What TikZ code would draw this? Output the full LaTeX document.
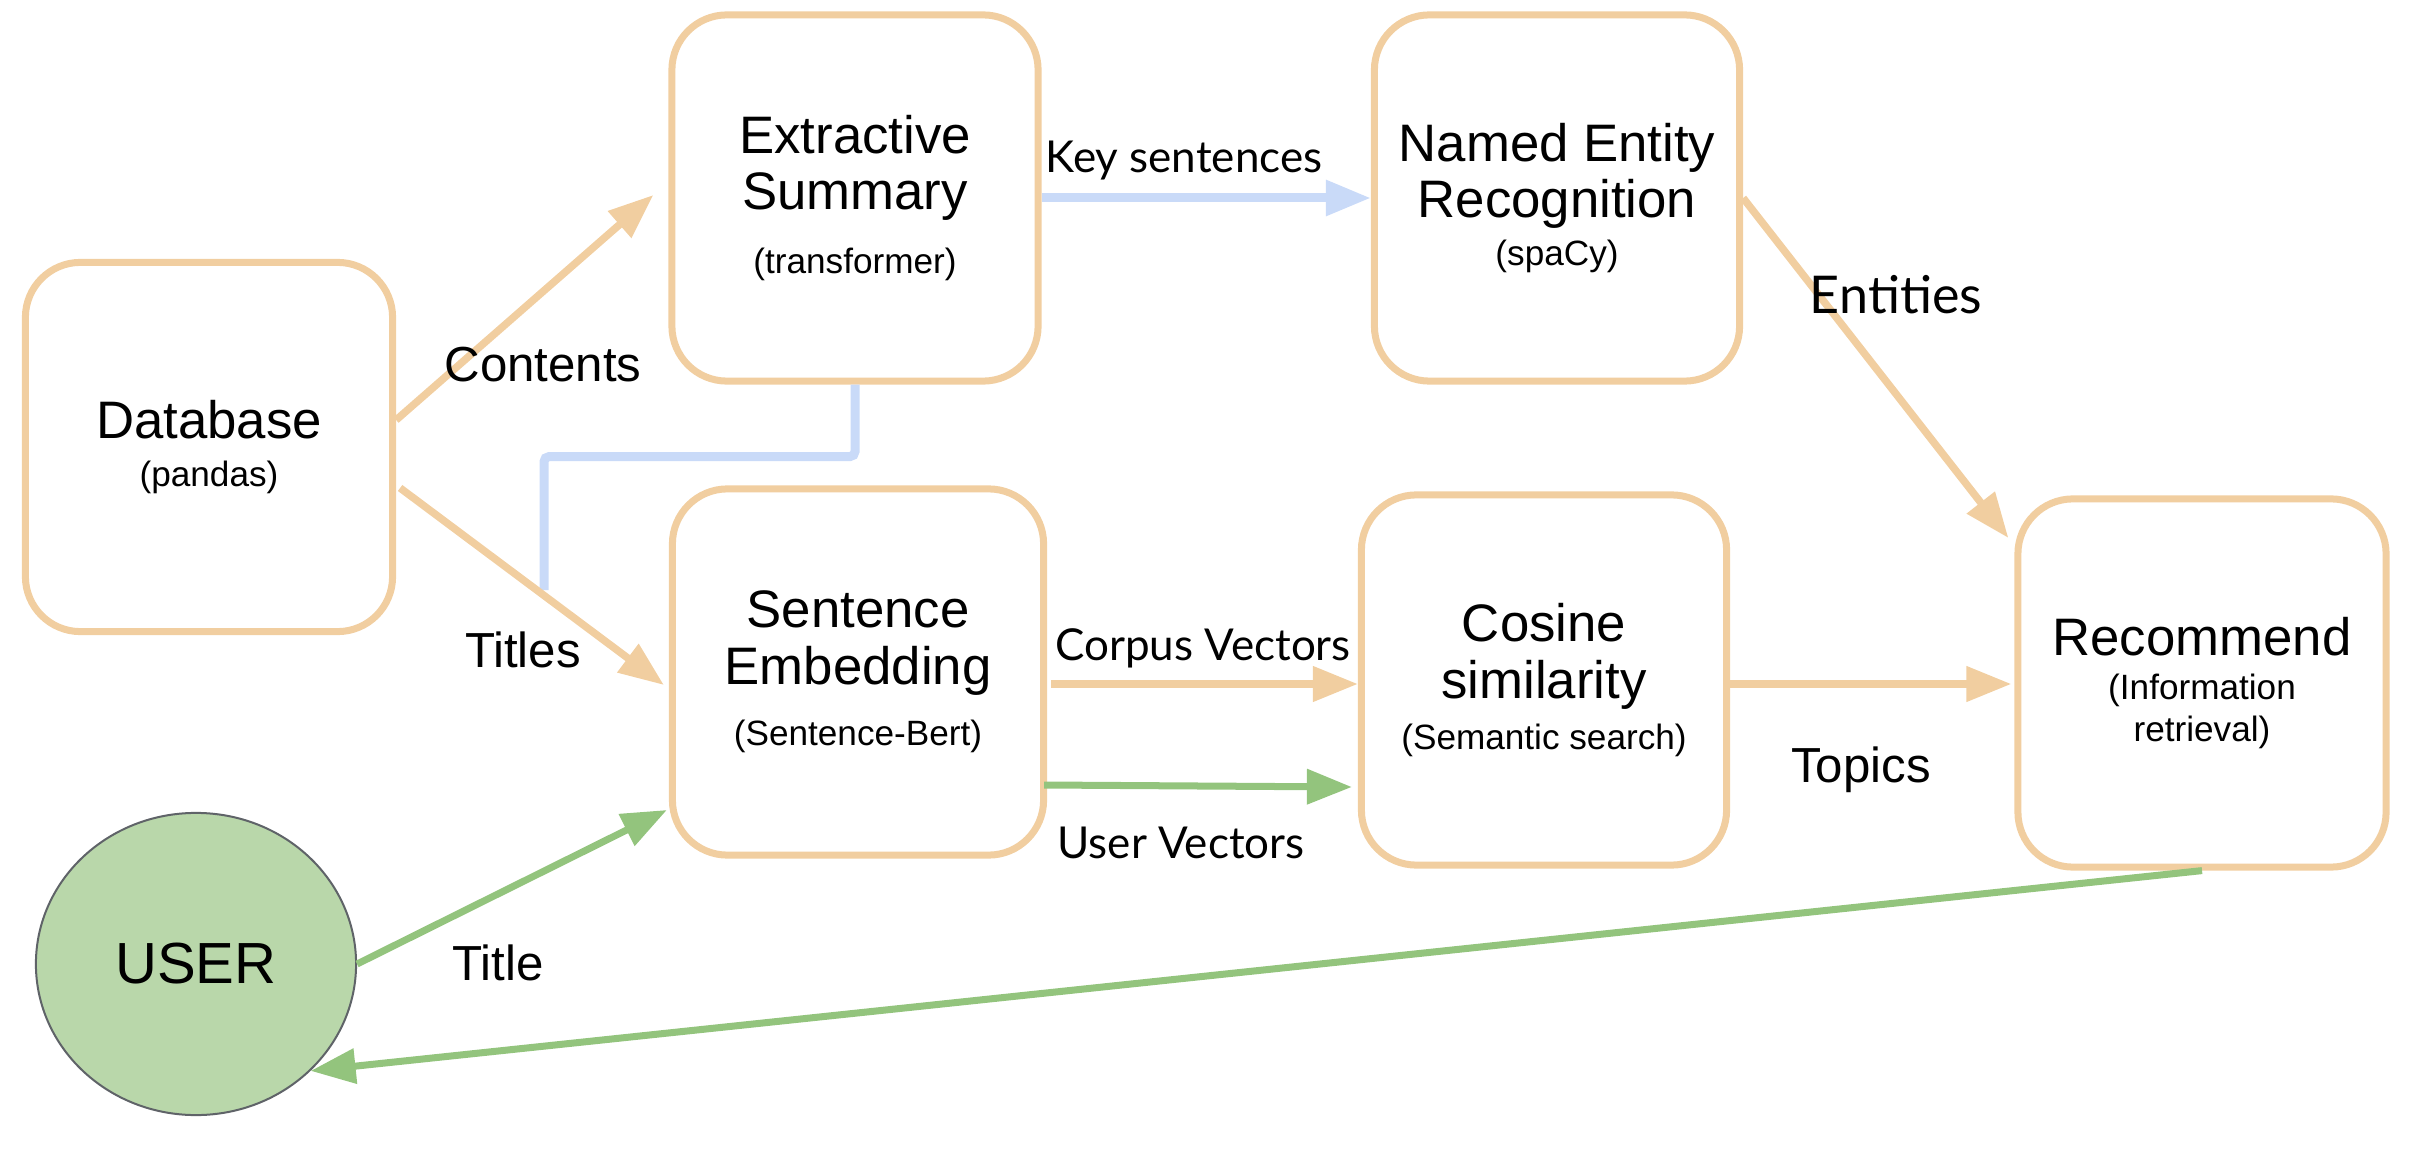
\documentclass[tikz,border=0pt]{standalone}
\usepackage{fontspec}
\setmainfont{Liberation Sans}
\newfontfamily\latofont{Lato}
\usetikzlibrary{arrows.meta,calc,shapes.geometric}
\definecolor{boxorange}{RGB}{241,206,160}
\definecolor{lineblue}{RGB}{201,218,248}
\definecolor{linegreen}{RGB}{147,196,125}
\definecolor{userfill}{RGB}{185,215,170}
\definecolor{usergray}{RGB}{95,99,104}
\newcommand{\subtxt}[1]{{\fontsize{10}{12}\selectfont #1}}
\tikzset{
	box/.style={draw=boxorange, fill=white, line width=0.07cm, rounded corners=0.55cm, minimum width=3.66cm, minimum height=3.66cm, align=center, font=\fontsize{15}{16}\selectfont},
	orangearrow/.style={draw=boxorange, line width=0.075cm, -{Triangle[length=0.45cm,width=0.34cm]}},
	greenarrow/.style={draw=linegreen, line width=0.07cm, -{Triangle[length=0.45cm,width=0.34cm]}},
	bluearrow/.style={draw=lineblue, line width=0.09cm, -{Triangle[length=0.45cm,width=0.34cm]}},
	blueline/.style={draw=lineblue, line width=0.09cm, rounded corners=0.05cm},
	lbl/.style={font=\fontsize{14}{16}\selectfont},
	latolbl/.style={font=\latofont\fontsize{12.5}{14}\selectfont}
}
\begin{document}
\begin{tikzpicture}[x=0.01cm, y=-0.01cm]
	\useasboundingbox (0,0) rectangle (2412,1158);
	
	\node[box, minimum width=3.67cm, minimum height=3.69cm] (db) at (209,447) {Database\\[-2.4pt]\subtxt{(pandas)}};
	\node[box] (ext) at (855,198) {Extractive\\Summary\\[2pt]\subtxt{(transformer)}};
	\node[box, minimum width=3.65cm] (ner) at (1557,198) {Named Entity\\Recognition\\[-2.4pt]\subtxt{(spaCy)}};
	\node[box, minimum width=3.71cm] (emb) at (858,672) {Sentence\\Embedding\\[1.5pt]\subtxt{(Sentence-Bert)}};
	\node[box, minimum width=3.65cm, minimum height=3.7cm] (cos) at (1544,680) {Cosine\\similarity\\[-1.5pt]\subtxt{(Semantic search)}};
	\node[box, minimum width=3.68cm, minimum height=3.68cm] (rec) at (2202,683) {Recommend\\[-3.5pt]\subtxt{(Information}\\[-3.8pt]\subtxt{retrieval)}};
	\node[draw=usergray, line width=0.02cm, fill=userfill, ellipse, minimum width=3.2cm, minimum height=3.02cm, font=\fontsize{16.5}{18}\selectfont] (user) at (196,964) {USER};
	
	\coordinate (tj) at (544,590);
	\draw[blueline] (ext.south) -- ++(0,72) -| (tj);
	\draw[orangearrow] ($(db.east)+(0,-27)$) -- ($(ext.west)+(-15,-3)$);
	\draw[orangearrow] ($(db.east)+(4,41)$) -- ($(emb.west)+(-5,13)$);
	\draw[bluearrow] (ext.east) -- (ner.west);
	\draw[orangearrow] (ner.east) -- ($(rec.west)+(-6,-145)$);
	\draw[orangearrow] ($(emb.east)+(4,12)$) -- ($(cos.west)+(0,4)$);
	\draw[greenarrow] ($(emb.east)+(-3,113)$) -- ($(cos.west)+(-6,107)$);
	\draw[orangearrow] ($(cos.east)+(0,4)$) -- ($(rec.west)+(-3,1)$);
	\draw[greenarrow] (rec.south) -- (user.-43);
	\draw[greenarrow] (user.east) -- ($(emb.west)+(-2,138)$);
	
	\node[lbl] (contents) at (543,365) {Contents};
	\node[lbl] (titles) at (523,650) {Titles};
	\node[latolbl] (keysent) at (1184,161) {Key sentences};
	\node[latolbl, font=\latofont\fontsize{14.8}{16}\selectfont] (entities) at (1896,295) {Entities};
	\node[latolbl] (corpus) at (1203,648) {Corpus Vectors};
	\node[latolbl] (uservec) at (1181,843) {User Vectors};
	\node[lbl] (topics) at (1861,770) {Topics};
	\node[lbl] (title) at (498,963) {Title};
\end{tikzpicture}
\end{document}
